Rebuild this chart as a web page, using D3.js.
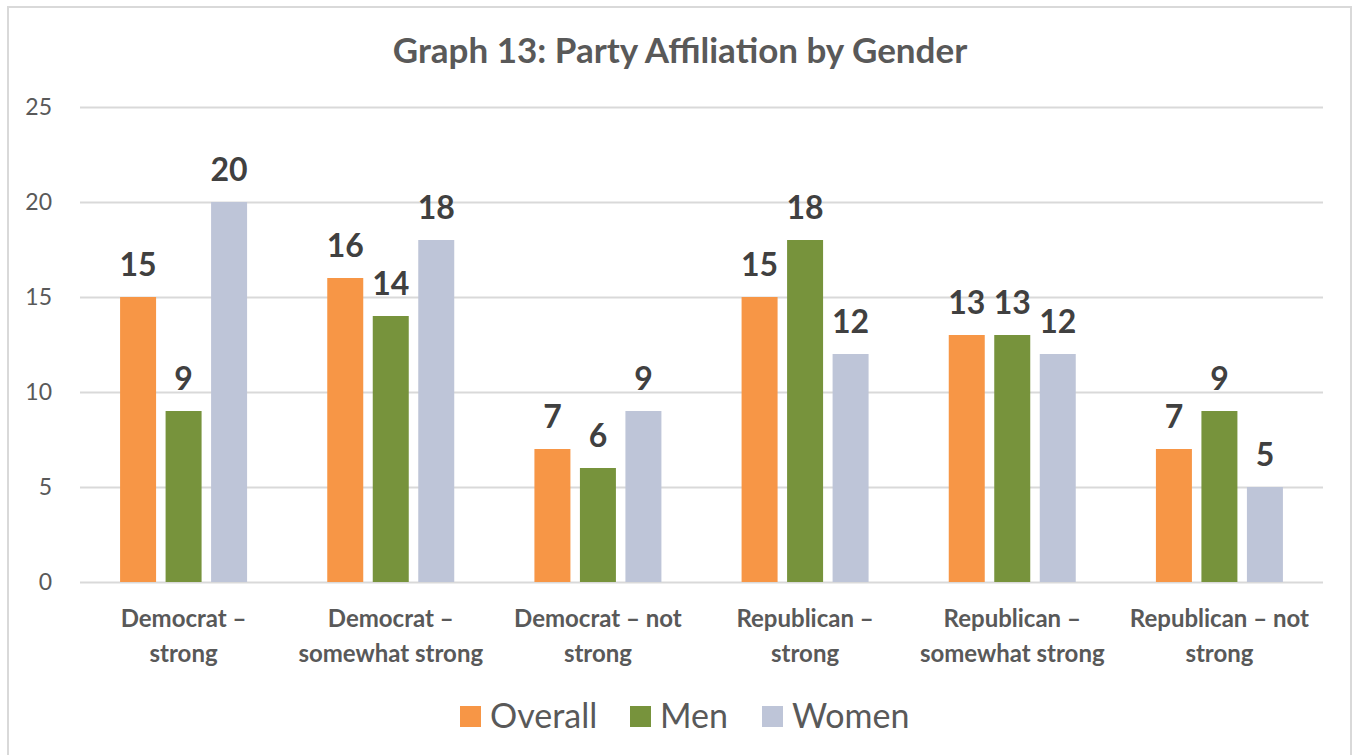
<!DOCTYPE html>
<html><head><meta charset="utf-8">
<script src="https://cdn.jsdelivr.net/npm/d3@7"></script>
<style>body{margin:0;background:#fff;}svg{display:block;font-family:Lato,"Open Sans",sans-serif;}</style>
</head><body><svg id="c" width="1353" height="755"></svg>
<script>
const categories = [
  ["Democrat –","strong"],
  ["Democrat –","somewhat strong"],
  ["Democrat – not","strong"],
  ["Republican –","strong"],
  ["Republican –","somewhat strong"],
  ["Republican – not","strong"]
];
const seriesNames = ["Overall","Men","Women"];
const overall = [15,16,7,15,13,7];
const men = [9,14,6,18,13,9];
const women = [20,18,9,12,12,5];
const yTicks = [0,5,10,15,20,25];
const colors = ["#F79646","#77933C","#BEC5D8"];
const title = "Graph 13: Party Affiliation by Gender";

const svg = d3.select("#c");
svg.append("rect").attr("x",8).attr("y",7).attr("width",1343).attr("height",760)
  .attr("fill","#fff").attr("stroke","#d9d9d9").attr("stroke-width",2);

const m = {l:80,r:1323,t:107,b:582};
const x0 = d3.scaleBand().domain(d3.range(categories.length)).range([m.l,m.r]).paddingInner(0).paddingOuter(0);
const y = d3.scaleLinear().domain([0,25]).range([m.b,m.t]);
const bw = 36, gap = 9.5;
const x1 = i => (i-1)*(bw+gap) - bw/2;

svg.append("text").attr("x",680).attr("y",63).attr("text-anchor","middle")
  .attr("font-size",35).attr("font-weight","bold").attr("fill","#595959").text(title);

const yAxis = d3.axisLeft(y).tickValues(yTicks).tickSize(-(m.r-m.l)).tickPadding(28);
const ga = svg.append("g").attr("transform",`translate(${m.l},0)`).call(yAxis);
ga.select(".domain").remove();
ga.selectAll(".tick line").attr("stroke","#d9d9d9").attr("stroke-width",2);
ga.selectAll(".tick text").attr("font-size",23).attr("fill","#595959").attr("font-family","Lato,sans-serif");

const data = [overall,men,women];
data.forEach((vals,s)=>{
  const g = svg.append("g");
  g.selectAll("rect").data(vals).join("rect")
    .attr("x",(d,i)=>x0(i)+x0.bandwidth()/2 + x1(s))
    .attr("y",d=>y(d)).attr("width",bw).attr("height",d=>y(0)-y(d))
    .attr("fill",colors[s]);
  g.selectAll("text").data(vals).join("text")
    .attr("x",(d,i)=>x0(i)+x0.bandwidth()/2 + x1(s)+bw/2)
    .attr("y",d=>y(d)-21).attr("text-anchor","middle")
    .attr("font-size",32).attr("font-weight","bold").attr("fill","#404040").text(d=>d);
});

const cg = svg.append("g");
categories.forEach((lines,i)=>{
  const t = cg.append("text").attr("text-anchor","middle").attr("font-size",24)
    .attr("font-weight","bold").attr("fill","#595959");
  lines.forEach((ln,j)=>{
    t.append("tspan").attr("x",x0(i)+x0.bandwidth()/2).attr("y",627+j*35).text(ln);
  });
});

const lx = [460,630,762];
seriesNames.forEach((n,s)=>{
  svg.append("rect").attr("x",lx[s]).attr("y",706).attr("width",21).attr("height",21).attr("fill",colors[s]);
  svg.append("text").attr("x",lx[s]+30).attr("y",728).attr("font-size",34).attr("fill","#595959").text(n);
});
</script></body></html>
